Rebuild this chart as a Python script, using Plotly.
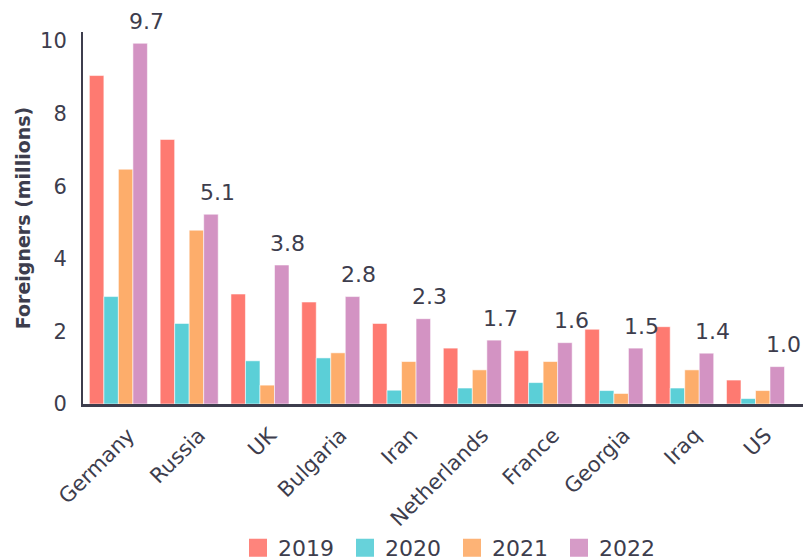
import plotly.graph_objects as go

countries = ["Germany", "Russia", "UK", "Bulgaria", "Iran", "Netherlands",
             "France", "Georgia", "Iraq", "US"]
years = ["2019", "2020", "2021", "2022"]
v2019 = [9.05, 7.29, 3.03, 2.81, 2.22, 1.54, 1.47, 2.06, 2.13, 0.66]
v2020 = [2.96, 2.22, 1.19, 1.27, 0.38, 0.44, 0.59, 0.37, 0.44, 0.15]
v2021 = [6.47, 4.79, 0.52, 1.41, 1.17, 0.94, 1.17, 0.29, 0.94, 0.37]
v2022 = [9.94, 5.23, 3.83, 2.96, 2.35, 1.76, 1.69, 1.54, 1.40, 1.03]
labels_2022 = ["9.7", "5.1", "3.8", "2.8", "2.3", "1.7", "1.6", "1.5", "1.4", "1.0"]
colors = ["#FE7A71", "#5BCFD7", "#FDAD6B", "#D393C3"]
y_ticks = [0, 2, 4, 6, 8, 10]

FONT = "Verdana, DejaVu Sans, sans-serif"
TXT = "#3d3d4d"

fig = go.Figure()
for name, vals, col in zip(years, [v2019, v2020, v2021, v2022], colors):
    fig.add_trace(go.Bar(
        x=countries, y=vals, name=name, showlegend=False,
        marker=dict(color=col, line=dict(color="rgba(255,255,255,0.55)", width=1)),
    ))
# legend entries with larger square swatches
for name, col in zip(years, colors):
    fig.add_trace(go.Scatter(
        x=[None], y=[None], mode="markers", name=name,
        marker=dict(symbol="square", size=16, color=col, opacity=0.92,
                    line=dict(color=col, width=2)),
    ))

for c, v, t in zip(countries, v2022, labels_2022):
    fig.add_annotation(x=c, y=v, text=t, showarrow=False, xshift=28, yshift=22,
                       yanchor="middle", font=dict(family=FONT, size=22, color=TXT))

fig.update_layout(
    width=805, height=560,
    margin=dict(l=83, r=2, t=32, b=156),
    paper_bgcolor="white", plot_bgcolor="white",
    barmode="group", bargap=0.18, bargroupgap=0,
    font=dict(family=FONT, color=TXT, size=20),
    legend=dict(orientation="h", xref="container", yref="container",
                x=238 / 805, xanchor="left", y=(560 - 548) / 560, yanchor="middle",
                font=dict(family=FONT, size=22, color=TXT), itemwidth=30,
                entrywidth=62, entrywidthmode="pixels", tracegroupgap=0),
)
fig.update_xaxes(
    showline=True, linecolor="#3d3d4d", linewidth=2.5, showgrid=False, automargin=False,
    tickangle=-45, tickfont=dict(family=FONT, size=21, color=TXT), ticks="",
    ticklabelstandoff=8, ticklabelshift=10,
)
fig.update_yaxes(
    range=[0, 10.25], tickvals=y_ticks, showgrid=False, zeroline=False, automargin=False,
    showline=True, linecolor="#3d3d4d", linewidth=2,
    tickfont=dict(family=FONT, size=21, color=TXT), ticklabelstandoff=10,
    title=dict(text="<b>Foreigners (millions)</b>", font=dict(family=FONT, size=19, color=TXT),
               standoff=4),
)
fig.write_html("out.html", config={"displayModeBar": False},
               post_script="document.body.style.margin='0px';document.body.style.overflow='hidden';")
